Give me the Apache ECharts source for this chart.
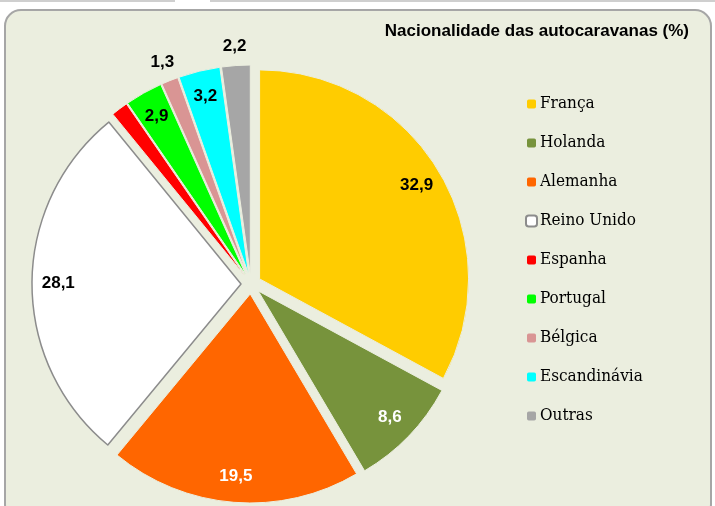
<!DOCTYPE html>
<html lang="pt" style="height: 100%">
<head>
    <meta charset="UTF-8">
    <title>Nacionalidade das autocaravanas</title>
    <script src="https://cdn.jsdelivr.net/npm/echarts@6/dist/echarts.min.js"></script>
</head>
<body style="height: 100%; margin: 0; background: #fff">
<div id="main" style="width: 715px; height: 506px"></div>
<script>
    var paises = ['França', 'Holanda', 'Alemanha', 'Reino Unido', 'Espanha', 'Portugal', 'Bélgica', 'Escandinávia', 'Outras'];
    var valores = [32.9, 8.6, 19.5, 28.1, 1.3, 2.9, 1.3, 3.2, 2.2];
    var cores = ['#ffcc00', '#77933c', '#ff6600', '#ffffff', '#ff0000', '#00ff00', '#d99594', '#00ffff', '#a6a6a6'];
    // which labels sit inside the ring, which outside
    var dentro = [true, true, true, true, false, true, false, true, false];
    var fora = [false, false, false, false, false, false, true, false, true];
    var brancos = ['Holanda', 'Alemanha'];

    var centro = [251, 284];
    var raio = 209;
    var fonte = '"Liberation Sans", Arial, sans-serif';

    function fmt(v) { return String(v).replace('.', ','); }

    var dados = paises.map(function (p, i) {
        return {
            name: p,
            value: valores[i],
            selected: true,
            itemStyle: {
                color: cores[i],
                borderColor: p === 'Reino Unido' ? '#8c8c8c' : '#ebeedf',
                borderWidth: p === 'Reino Unido' ? 1.5 : 1
            }
        };
    });

    function anelRotulos(r0, r1, mostrar) {
        return {
            type: 'pie',
            center: centro,
            radius: [r0, r1],
            silent: true,
            selectedMode: 'multiple',
            selectedOffset: 10,
            legendHoverLink: false,
            itemStyle: {color: 'rgba(0,0,0,0)', borderWidth: 0},
            labelLine: {show: false},
            data: paises.map(function (p, i) {
                return {
                    name: p + ' ',
                    value: valores[i],
                    selected: true,
                    label: {
                        show: mostrar[i],
                        position: 'inside',
                        formatter: fmt(valores[i]),
                        color: brancos.indexOf(p) >= 0 ? '#fff' : '#000',
                        fontFamily: fonte,
                        fontWeight: 'bold',
                        fontSize: 17
                    }
                };
            })
        };
    }

    var option = {
        backgroundColor: '#ffffff',
        graphic: [
            {type: 'rect', shape: {x: 0, y: 0, width: 175, height: 2}, style: {fill: '#cfcfcf'}, z: 0},
            {type: 'rect', shape: {x: 210, y: 0, width: 505, height: 2}, style: {fill: '#cfcfcf'}, z: 0},
            {
                type: 'rect',
                shape: {x: 5, y: 10, width: 706, height: 510, r: 16},
                style: {fill: '#ebeedf', stroke: '#a6a6a6', lineWidth: 2},
                z: 0
            }
        ],
        title: {
            text: 'Nacionalidade das autocaravanas (%)',
            right: 21,
            top: 18,
            textStyle: {fontFamily: fonte, fontWeight: 'bold', fontSize: 17, color: '#000'}
        },
        legend: {
            orient: 'vertical',
            left: 525,
            top: 94,
            padding: 0,
            data: paises,
            itemWidth: 11,
            itemHeight: 11,
            itemGap: 19,
            selectedMode: false,
            textStyle: {fontFamily: '"DejaVu Serif Condensed", "Liberation Serif", serif', fontSize: 17, color: '#000', lineHeight: 20, padding: [0, 0, 0, -2]}
        },
        series: [
            {
                type: 'pie',
                center: centro,
                radius: [0, raio],
                selectedMode: 'multiple',
                selectedOffset: 10,
                label: {show: false},
                labelLine: {show: false},
                emphasis: {disabled: true},
                data: dados
            },
            anelRotulos(raio * 0.76, raio * 0.96, dentro),
            anelRotulos(raio * 1.0, raio * 1.16, fora)
        ]
    };

    var myChart = echarts.init(document.getElementById('main'));
    myChart.setOption(option);
</script>
</body>
</html>
